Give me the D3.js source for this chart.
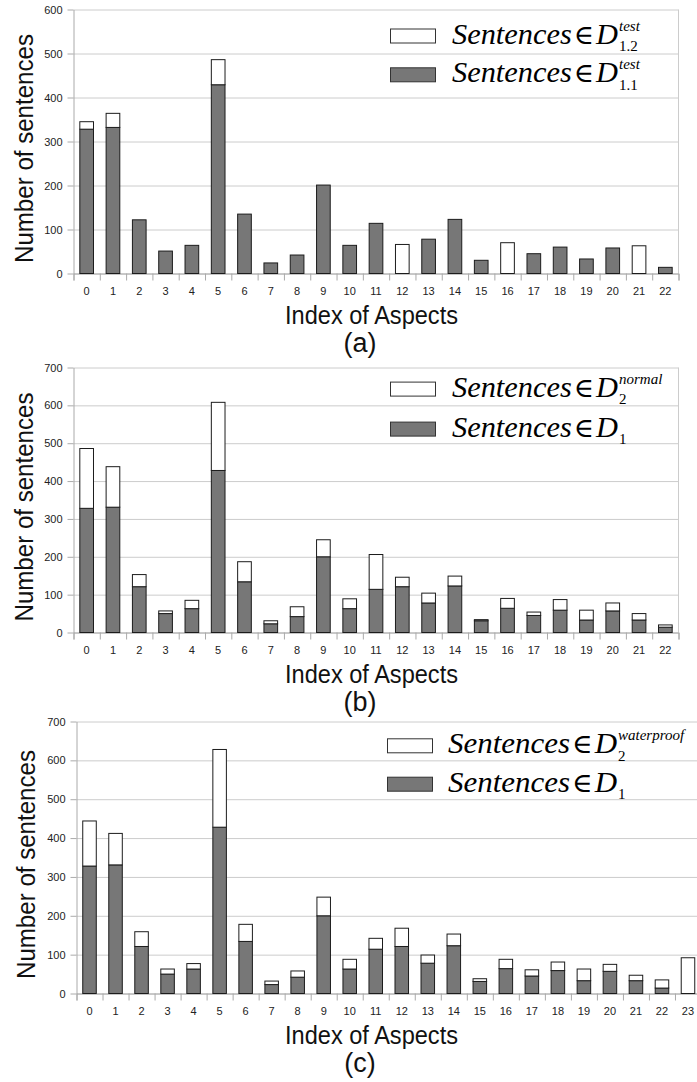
<!DOCTYPE html>
<html>
<head>
<meta charset="utf-8">
<script src="https://cdn.jsdelivr.net/npm/d3@7"></script>
<style>
  body { margin: 0; background: #fff; }
  svg { display: block; }
</style>
</head>
<body>
<svg id="fig" width="697" height="1082"></svg>
<script>
// ---- category labels ----
const aspects23 = ["0","1","2","3","4","5","6","7","8","9","10","11","12","13","14","15","16","17","18","19","20","21","22"];
const aspects24 = ["0","1","2","3","4","5","6","7","8","9","10","11","12","13","14","15","16","17","18","19","20","21","22","23"];

// ---- (a) test split: D1.1 (dark) with D1.2 stacked on top ----
const testD11 = [328,332,122,51,64,429,135,24,42,201,64,114,0,78,123,30,0,45,60,33,58,0,14];
const testD12 = [17,32,0,0,0,57,0,0,0,0,0,0,66,0,0,0,70,0,0,0,0,63,0];

// ---- (b) D1 (dark) with D2 normal stacked on top ----
const normalD1 = [328,331,121,50,63,428,134,23,42,200,63,114,121,78,123,31,64,45,59,33,57,33,14];
const normalD2 = [158,107,32,7,22,180,53,8,26,45,26,92,25,26,26,3,26,9,28,26,21,17,6];

// ---- (c) D1 (dark) with D2 waterproof stacked on top ----
const waterD1 = [328,331,121,50,63,428,134,23,42,200,63,114,121,78,123,31,64,45,59,33,57,33,14,0];
const waterD2 = [116,81,38,13,14,200,44,9,16,48,25,28,47,21,30,7,24,16,22,30,18,14,21,92];

// ---- y-axis tick values ----
const ticksA = [0,100,200,300,400,500,600];
const ticksBC = [0,100,200,300,400,500,600,700];

const DARK = "#777777", EDGE = "#1c1c1c", GRID = "#cccccc", AXIS = "#aaaaaa";
const SANS = "'Liberation Sans', Arial, sans-serif";
const SERIF = "'Liberation Serif', 'Times New Roman', serif";

const panels = [
  { cats: aspects23, lower: testD11, upper: testD12, ticks: ticksA, yMax: 600,
    x0: 73.5, x1: 678.5, yTop: 9.5, yZero: 273.5, border: true, tag: "(a)", titleX: 18,
    legend: { swatchX: 390, textX: 452, textLen: 166, rows: [
      { fill: "#fff", sup: "test", sub: "1.2", base: 43.5 },
      { fill: DARK,  sup: "test", sub: "1.1", base: 82.3 } ] } },
  { cats: aspects23, lower: normalD1, upper: normalD2, ticks: ticksBC, yMax: 700,
    x0: 73.5, x1: 678.5, yTop: 367.5, yZero: 632.5, border: true, tag: "(b)", titleX: 18,
    legend: { swatchX: 390, textX: 452, textLen: 166, rows: [
      { fill: "#fff", sup: "normal", sub: "2", base: 396.6 },
      { fill: DARK,  sup: "", sub: "1", base: 436.6 } ] } },
  { cats: aspects24, lower: waterD1, upper: waterD2, ticks: ticksBC, yMax: 700,
    x0: 76.5, x1: 701, yTop: 721.5, yZero: 993.5, border: false, tag: "(c)", titleX: 20,
    legend: { swatchX: 387, textX: 448, textLen: 169, rows: [
      { fill: "#fff", sup: "waterproof", sub: "2", base: 753.3 },
      { fill: DARK,  sup: "", sub: "1", base: 791.7 } ] } }
];

const svg = d3.select("#fig");

panels.forEach(p => {
  const g = svg.append("g");
  const n = p.cats.length;

  const x = d3.scaleBand().domain(p.cats).range([p.x0, p.x1])
    .paddingInner(0.48).paddingOuter(0.24);
  const edges = d3.scaleLinear().domain([0, n]).range([p.x0, p.x1]);
  const y = d3.scaleLinear().domain([0, p.yMax]).range([p.yZero, p.yTop]);

  // horizontal gridlines
  const grid = g.append("g").attr("transform", `translate(${p.x0},0)`)
    .call(d3.axisLeft(y).tickValues(p.ticks).tickSize(-(p.x1 - p.x0)).tickFormat(""));
  grid.select(".domain").remove();
  grid.selectAll("line").attr("stroke", GRID);

  // right frame edge
  if (p.border) {
    g.append("line").attr("x1", p.x1).attr("x2", p.x1)
      .attr("y1", p.yTop).attr("y2", p.yZero).attr("stroke", GRID);
  }

  // y axis with labels
  const ya = g.append("g").attr("transform", `translate(${p.x0},0)`)
    .call(d3.axisLeft(y).tickValues(p.ticks).tickSize(6).tickSizeOuter(0).tickPadding(5));
  ya.select(".domain").attr("stroke", AXIS);
  ya.selectAll("line").attr("stroke", AXIS);
  ya.selectAll("text").style("font-size", "11px").style("font-family", SANS).attr("fill", "#222");

  // x axis: boundary ticks
  const xb = g.append("g").attr("transform", `translate(0,${p.yZero})`)
    .call(d3.axisBottom(edges).tickValues(d3.range(n + 1)).tickSize(7).tickFormat(""));
  xb.select(".domain").attr("stroke", AXIS);
  xb.selectAll("line").attr("stroke", AXIS);

  // x axis: category labels
  const xl = g.append("g").attr("transform", `translate(0,${p.yZero})`)
    .call(d3.axisBottom(x).tickSize(0).tickPadding(14));
  xl.select(".domain").remove();
  xl.selectAll("text").style("font-size", "11px").style("font-family", SANS).attr("fill", "#222");

  // stacked bars
  const rows = p.cats.map((c, i) => ({ c, lo: p.lower[i], hi: p.upper[i] }));
  g.append("g").selectAll("rect").data(rows.filter(d => d.lo > 0)).join("rect")
    .attr("x", d => x(d.c)).attr("width", x.bandwidth())
    .attr("y", d => y(d.lo)).attr("height", d => y(0) - y(d.lo))
    .attr("fill", DARK).attr("stroke", EDGE).attr("stroke-width", 1);
  g.append("g").selectAll("rect").data(rows.filter(d => d.hi > 0)).join("rect")
    .attr("x", d => x(d.c)).attr("width", x.bandwidth())
    .attr("y", d => y(d.lo + d.hi)).attr("height", d => y(d.lo) - y(d.lo + d.hi))
    .attr("fill", "#fff").attr("stroke", EDGE).attr("stroke-width", 1);

  // axis titles
  const midY = (p.yTop + p.yZero) / 2 + 7;
  g.append("text")
    .attr("transform", `translate(${p.titleX + 15},${midY}) rotate(-90)`)
    .attr("text-anchor", "middle").style("font-family", SANS).style("font-size", "25px")
    .attr("fill", "#111")
    .attr("textLength", 229).attr("lengthAdjust", "spacingAndGlyphs")
    .text("Number of sentences");
  g.append("text").attr("x", 371.5).attr("y", p.yZero + 50)
    .attr("text-anchor", "middle").style("font-family", SANS).style("font-size", "25px")
    .attr("fill", "#111")
    .attr("textLength", 173).attr("lengthAdjust", "spacingAndGlyphs")
    .text("Index of Aspects");
  g.append("text").attr("x", 360).attr("y", p.yZero + 78)
    .attr("text-anchor", "middle").style("font-family", SANS).style("font-size", "27px")
    .attr("fill", "#111")
    .text(p.tag);

  // legend
  const L = p.legend;
  L.rows.forEach(r => {
    g.append("rect").attr("x", L.swatchX + 0.5).attr("y", r.base - 14.5)
      .attr("width", 45).attr("height", 14)
      .attr("fill", r.fill).attr("stroke", "#333").attr("stroke-width", 1);
    const t = g.append("text").attr("x", L.textX).attr("y", r.base)
      .style("font-family", SERIF).style("font-size", "30px").attr("fill", "#000")
      .attr("textLength", L.textLen).attr("lengthAdjust", "spacingAndGlyphs");
    t.append("tspan").style("font-style", "italic").text("Sentences");
    t.append("tspan").attr("dx", 2)
      .style("font-family", "'DejaVu Serif', serif").style("font-size", "27px")
      .style("font-weight", "200").text("\u2208");
    t.append("tspan").attr("dx", 2).style("font-style", "italic").text("D");
    const ex = L.textX + L.textLen + 1;
    if (r.sup) {
      g.append("text").attr("x", ex).attr("y", r.base - 13)
        .style("font-family", SERIF).style("font-style", "italic").style("font-size", "15px")
        .text(r.sup);
    }
    g.append("text").attr("x", ex).attr("y", r.base + 7.5)
      .style("font-family", SERIF).style("font-size", "15px").text(r.sub);
  });
});
</script>
</body>
</html>
